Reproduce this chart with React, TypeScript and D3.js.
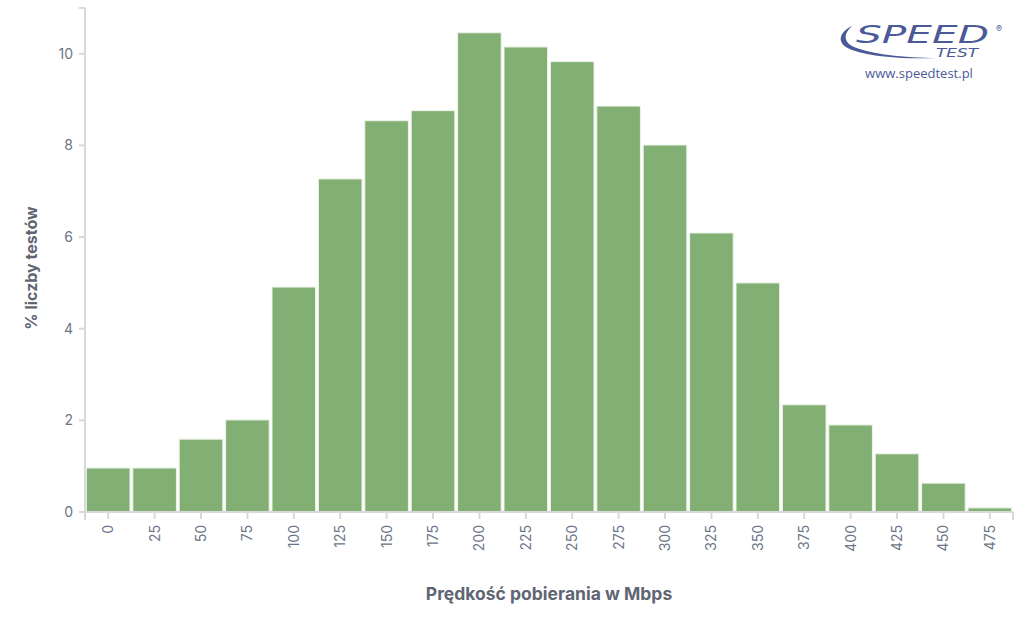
import React from "react";
import * as d3 from "d3";

const categories = ["0","25","50","75","100","125","150","175","200","225","250","275","300","325","350","375","400","425","450","475"];
const percentValues = [0.96,0.96,1.59,2.01,4.91,7.27,8.54,8.76,10.46,10.15,9.83,8.86,8.01,6.09,5.0,2.34,1.9,1.27,0.63,0.09];
const yTicks = [0,2,4,6,8,10];

const W = 1024, H = 630;
const left = 85, right = 1013, top = 8, bottom = 512;
const axisColor = "#d9d9d9";
const tickText = "#6b7588";
const titleColor = "#5f6572";
const barColor = "#82b074";
const logoColor = "#4b5a97";
const font = "Inter, 'Open Sans', sans-serif";

export default function App() {
  const x = d3.scaleBand<string>().domain(categories).range([left, right]).paddingInner(0.06).paddingOuter(0.03);
  const xc = d3.scaleBand<string>().domain(categories).range([left, right]);
  const y = d3.scaleLinear().domain([0, 11]).range([bottom, top]);

  return (
    <svg width={W} height={H} style={{ position: "absolute", left: 0, top: 0, background: "#fff" }} fontFamily={font}>
      {categories.map((c, i) => (
        <rect key={c} x={x(c)!} y={y(percentValues[i])} width={x.bandwidth()} height={bottom - y(percentValues[i])}
          fill={barColor} stroke="#eef3ea" strokeWidth={1} />
      ))}
      <line x1={left} x2={left} y1={top} y2={bottom} stroke={axisColor} strokeWidth={2} />
      <line x1={left - 6} x2={left} y1={top} y2={top} stroke={axisColor} strokeWidth={2} />
      {yTicks.map(t => (
        <g key={t}>
          <line x1={left - 6} x2={left} y1={y(t)} y2={y(t)} stroke={axisColor} strokeWidth={2} />
          <text x={left - 12} y={y(t)} dy="0.35em" textAnchor="end" fontSize={14} fill={tickText}>{t}</text>
        </g>
      ))}
      <line x1={left - 6} x2={right} y1={bottom} y2={bottom} stroke={axisColor} strokeWidth={2} />
      <line x1={left} x2={left} y1={bottom} y2={bottom + 8} stroke={axisColor} strokeWidth={2} />
      <line x1={right} x2={right} y1={bottom} y2={bottom + 8} stroke={axisColor} strokeWidth={2} />
      {categories.map(c => {
        const cx = xc(c)! + xc.bandwidth() / 2;
        return (
          <g key={c}>
            <line x1={cx} x2={cx} y1={bottom} y2={bottom + 7} stroke={axisColor} strokeWidth={2} />
            <text transform={`translate(${cx},${bottom + 13}) rotate(-90)`} dy="0.35em" textAnchor="end" fontSize={14} fill={tickText}>{c}</text>
          </g>
        );
      })}
      <text transform={`translate(37,${(top + bottom) / 2 + 8}) rotate(-90)`} textAnchor="middle" fontSize={16} fontWeight={700} fill={titleColor}>% liczby testów</text>
      <text x={549} y={600} textAnchor="middle" fontSize={17.5} fontWeight={700} fill={titleColor}>Prędkość pobierania w Mbps</text>
      <g>
        <path d="M852,26 C838,33 836,44 852,50 C875,58 910,59 937,58 C905,58 868,54 852,46 C843,41 844,33 852,26 Z" fill={logoColor} />
        <text x={856} y={43} fontSize={25} fontStyle="italic" fontWeight={400} fill={logoColor} textLength={133} lengthAdjust="spacingAndGlyphs" fontFamily="'DejaVu Sans', sans-serif">SPEED</text>
        <text x={999} y={32} fontSize={9} textAnchor="middle" fill={logoColor}>®</text>
        <text x={936} y={57} fontSize={13} fontStyle="italic" fontWeight={400} fill={logoColor} textLength={42} lengthAdjust="spacingAndGlyphs" fontFamily="'DejaVu Sans', sans-serif">TEST</text>
        <text x={919} y={78} textAnchor="middle" fontSize={13} fill={logoColor} fontFamily="'Open Sans', sans-serif">www.speedtest.pl</text>
      </g>
    </svg>
  );
}
